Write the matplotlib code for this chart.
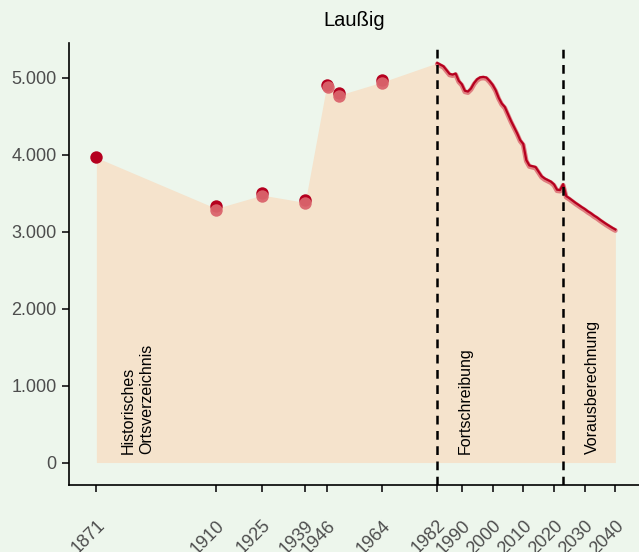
import matplotlib
matplotlib.use("Agg")
import matplotlib.pyplot as plt
import matplotlib.ticker as mticker

plt.rcParams['font.family'] = ['Liberation Sans', 'DejaVu Sans']

# Historical census points
hist_years = [1871, 1910, 1925, 1939, 1946, 1950, 1964]
hist_dark = [3970, 3330, 3500, 3405, 4910, 4800, 4965]
light_years = [1910, 1925, 1939, 1946.4, 1950, 1964]
hist_light = [3285, 3460, 3370, 4880, 4760, 4935]

# Annual series (Fortschreibung 1982-2022, Vorausberechnung 2023-2040)
line_years = list(range(1982, 2041))
line_values = [5192, 5170, 5149, 5100, 5050, 5040, 5054, 4960, 4916, 4830,
               4820, 4860, 4930, 4980, 5005, 5010, 5002, 4960, 4910, 4840,
               4740, 4665, 4620, 4530, 4440, 4360, 4280, 4190, 4140, 3930,
               3860, 3850, 3840, 3780, 3720, 3690, 3670, 3650, 3615, 3545,
               3540, 3617, 3461, 3435, 3405, 3375, 3348, 3320, 3295, 3265,
               3240, 3210, 3185, 3155, 3127, 3100, 3075, 3050, 3028]

xtick_years = [1871, 1910, 1925, 1939, 1946, 1964, 1982, 1990, 2000, 2010, 2020, 2030, 2040]
yticks = [0, 1000, 2000, 3000, 4000, 5000]
phase_lines = [1982, 2023]
phase_labels = ["Historisches\nOrtsverzeichnis", "Fortschreibung", "Vorausberechnung"]
phase_label_x = [1879.0, 1988.8, 2030.2]

bg = '#EDF6EC'
fill_c = '#F5E3CC'
dark = '#B5001F'
light = '#DA646C'

fig = plt.figure(figsize=(6.39, 5.52), dpi=100, facecolor=bg)
ax = fig.add_axes([0.1085, 0.1214, 0.8915, 0.8006], facecolor=bg)

# area
area_x = hist_years + line_years
area_y = [3963, 3301, 3474, 3379, 4899, 4773, 4942] + line_values
ax.fill_between(area_x, 0, area_y, color=fill_c, lw=0, zorder=1)

# line
ax.plot(line_years, [v - 14 for v in line_values], color=light, lw=3.4, alpha=0.8, zorder=3,
        solid_capstyle='round')
ax.plot(line_years, line_values, color=dark, lw=1.6, zorder=4)

# points
ax.scatter(hist_years, hist_dark, s=80, color=dark, lw=0, zorder=5)
ax.scatter(light_years, hist_light, s=80, color=light, lw=0, alpha=0.95, zorder=6)

for yr in phase_lines:
    ax.axvline(yr, color='black', lw=1.8, ls=(0, (3.5, 2.6)), zorder=7)

for lab, xv in zip(phase_labels, phase_label_x):
    ax.text(xv, 110, lab, rotation=90, ha='left', va='bottom', fontsize=11.5,
            color='black', linespacing=1.25, zorder=8)

ax.set_xlim(1862.2, 2047.7)
ax.set_ylim(-292, 5450)
ax.set_xticks(xtick_years)
ax.set_xticklabels([str(y) for y in xtick_years], rotation=45, ha='right',
                   rotation_mode='anchor')
ax.set_yticks(yticks)
ax.yaxis.set_major_formatter(mticker.FuncFormatter(lambda v, p: f"{int(v):,}".replace(",", ".")))

ax.tick_params(axis='both', direction='out', length=5, width=1.4, color='#333333',
               labelcolor='#4D4D4D', labelsize=13)
ax.tick_params(axis='x', pad=18)
ax.tick_params(axis='y', pad=4)

for s in ['top', 'right']:
    ax.spines[s].set_visible(False)
for s in ['left', 'bottom']:
    ax.spines[s].set_color('black')
    ax.spines[s].set_linewidth(1.2)

fig.text(0.5545, 0.962, "Laußig", ha='center', va='center', fontsize=14.5, color='black')

fig.savefig('out.png', dpi=100, facecolor=bg)
